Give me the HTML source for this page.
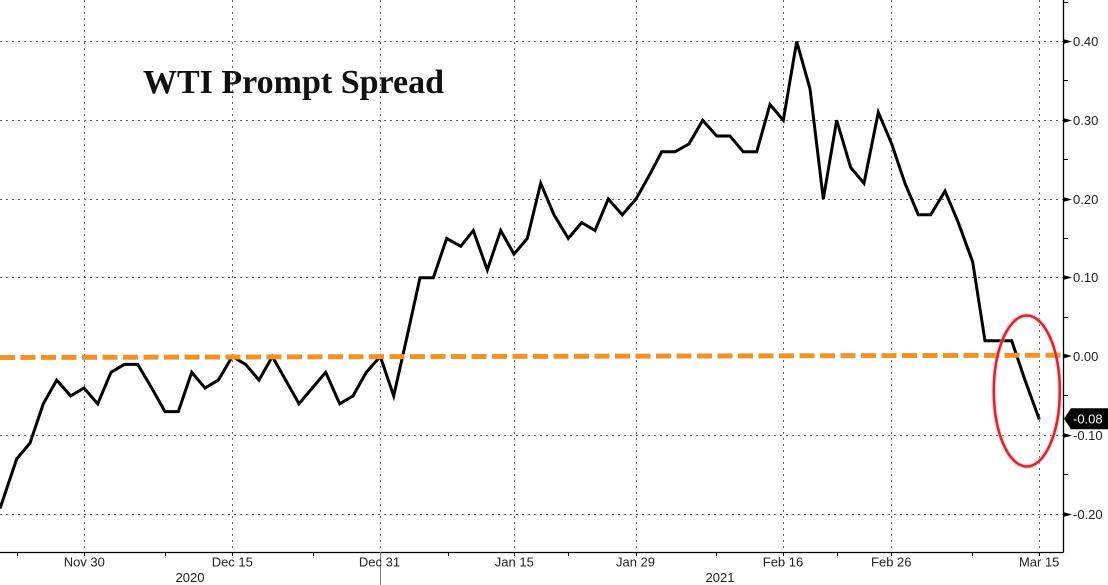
<!DOCTYPE html>
<html>
<head>
<meta charset="utf-8">
<style>
  html,body{margin:0;padding:0;background:#fff;}
  body{width:1108px;height:585px;overflow:hidden;}
  svg{display:block;}
  .ax{font-family:"Liberation Sans",sans-serif;font-size:13px;fill:#222;}
</style>
</head>
<body>
<svg width="1108" height="585" viewBox="0 0 1108 585" xmlns="http://www.w3.org/2000/svg">
  <rect x="0" y="0" width="1108" height="585" fill="#fff"/>

  <!-- horizontal gridlines -->
  <g stroke="#666" stroke-width="1" stroke-dasharray="2,4">
    <line x1="0" y1="41.5" x2="1063" y2="41.5"/>
    <line x1="0" y1="120.5" x2="1063" y2="120.5"/>
    <line x1="0" y1="199.5" x2="1063" y2="199.5"/>
    <line x1="0" y1="277.5" x2="1063" y2="277.5"/>
    <line x1="0" y1="435.5" x2="1063" y2="435.5"/>
    <line x1="0" y1="514.5" x2="1063" y2="514.5"/>
  </g>
  <!-- vertical gridlines -->
  <g stroke="#666" stroke-width="1" stroke-dasharray="2,4">
    <line x1="84.5" y1="0" x2="84.5" y2="552"/>
    <line x1="232.5" y1="0" x2="232.5" y2="552"/>
    <line x1="380.5" y1="0" x2="380.5" y2="552"/>
    <line x1="514.5" y1="0" x2="514.5" y2="552"/>
    <line x1="636.5" y1="0" x2="636.5" y2="552"/>
    <line x1="783.5" y1="0" x2="783.5" y2="552"/>
    <line x1="891.5" y1="0" x2="891.5" y2="552"/>
    <line x1="1039.5" y1="0" x2="1039.5" y2="552"/>
  </g>

  <!-- title -->
  <text x="143" y="93" font-family="'Liberation Serif',serif" font-weight="bold" font-size="34" fill="#111">WTI Prompt Spread</text>

  <!-- data line -->
  <polyline fill="none" stroke="#000" stroke-width="3" stroke-linejoin="miter" stroke-miterlimit="4"
    points="0,508.5 16.7,458.9 30,443.1 43.3,403.8 56.7,380.1 70.7,395.9 84,388 97.7,403.8 111,372.3 124.3,364.4 137.7,364.4 151.7,388 165,411.6 178.3,411.6 191.7,372.3 205,388 218.3,380.1 232.3,356.5 245.7,364.4 259,380.1 272.3,356.5 285.7,380.1 299,403.8 312.3,388 325.7,372.3 339.7,403.8 353,395.9 366.3,372.3 380.3,356.5 393.7,395.9 407,336.8 420,277.8 433.3,277.8 446.7,238.4 460.7,246.3 473.3,230.5 487.3,269.9 500.7,230.5 514,254.1 527.3,238.4 540.7,183.3 554,214.8 568.3,238.4 581.7,222.6 595,230.5 608.3,199 622.3,214.8 636,199 649.3,175.4 661.7,151.8 675,151.8 689,143.9 702.7,120.3 716.7,136 730,136 743.3,151.8 756.7,151.8 770,104.5 783.3,120.3 796.7,41.5 810,88.8 823.3,199 836.7,120.3 850.7,167.5 864,183.3 878.3,112.4 891.7,143.9 905,183.3 918.3,214.8 930.7,214.8 945,191.1 958.3,222.6 972.7,262 985,340.8 998.3,340.8 1011.7,340.8 1025,380.1 1039.3,419.5"/>

  <!-- orange dashed zero line -->
  <line x1="0" y1="357.5" x2="1063" y2="355.2" stroke="#f39224" stroke-width="5" stroke-dasharray="15,5.5"/>

  <!-- axes -->
  <line x1="0" y1="552.5" x2="1063.5" y2="552.5" stroke="#000" stroke-width="1.3"/>
  <line x1="1063.5" y1="0" x2="1063.5" y2="552.5" stroke="#000" stroke-width="1.3"/>

  <!-- right minor ticks -->
  <g stroke="#000" stroke-width="1">
    <line x1="1063" y1="2.5" x2="1068" y2="2.5"/>
    <line x1="1063" y1="80.5" x2="1068" y2="80.5"/>
    <line x1="1063" y1="159.5" x2="1068" y2="159.5"/>
    <line x1="1063" y1="238.5" x2="1068" y2="238.5"/>
    <line x1="1063" y1="317.5" x2="1068" y2="317.5"/>
    <line x1="1063" y1="395.5" x2="1068" y2="395.5"/>
    <line x1="1063" y1="474.5" x2="1068" y2="474.5"/>
  </g>
  <!-- right major tick arrows -->
  <g fill="#000">
    <polygon points="1063,39 1072,41.5 1063,44"/>
    <polygon points="1063,118 1072,120.5 1063,123"/>
    <polygon points="1063,197 1072,199.5 1063,202"/>
    <polygon points="1063,275 1072,277.5 1063,280"/>
    <polygon points="1063,353.5 1072,356 1063,358.5"/>
    <polygon points="1063,433 1072,435.5 1063,438"/>
    <polygon points="1063,512 1072,514.5 1063,517"/>
  </g>
  <!-- right labels -->
  <g class="ax">
    <text x="1073" y="46">0.40</text>
    <text x="1073" y="125">0.30</text>
    <text x="1073" y="204">0.20</text>
    <text x="1073" y="282">0.10</text>
    <text x="1073" y="361">0.00</text>
    <text x="1073" y="440">-0.10</text>
    <text x="1073" y="519">-0.20</text>
  </g>

  <!-- last value callout -->
  <polygon points="1064,418.8 1071,408.3 1108,408.3 1108,429.3 1071,429.3" fill="#000"/>
  <text x="1073" y="423.5" font-family="'Liberation Sans',sans-serif" font-size="13" fill="#fff">-0.08</text>

  <!-- bottom ticks -->
  <g stroke="#000" stroke-width="1">
    <line x1="17.5" y1="552" x2="17.5" y2="556"/>
    <line x1="165.5" y1="552" x2="165.5" y2="556"/>
    <line x1="313.5" y1="552" x2="313.5" y2="556"/>
    <line x1="448.5" y1="552" x2="448.5" y2="556"/>
    <line x1="568.5" y1="552" x2="568.5" y2="556"/>
    <line x1="716.5" y1="552" x2="716.5" y2="556"/>
    <line x1="837.5" y1="552" x2="837.5" y2="556"/>
    <line x1="972.5" y1="552" x2="972.5" y2="556"/>
    <line x1="84.5" y1="552" x2="84.5" y2="556"/>
    <line x1="232.5" y1="552" x2="232.5" y2="556"/>
    <line x1="514.5" y1="552" x2="514.5" y2="556"/>
    <line x1="636.5" y1="552" x2="636.5" y2="556"/>
    <line x1="783.5" y1="552" x2="783.5" y2="556"/>
    <line x1="891.5" y1="552" x2="891.5" y2="556"/>
    <line x1="1039.5" y1="552" x2="1039.5" y2="556"/>
  </g>
  <!-- year divider -->
  <line x1="380.5" y1="552" x2="380.5" y2="585" stroke="#777" stroke-width="1"/>

  <!-- bottom labels -->
  <g class="ax" text-anchor="middle">
    <text x="84.3" y="566.5">Nov 30</text>
    <text x="232.3" y="566.5">Dec 15</text>
    <text x="379.5" y="566.5">Dec 31</text>
    <text x="514.3" y="566.5">Jan 15</text>
    <text x="635.5" y="566.5">Jan 29</text>
    <text x="783" y="566.5">Feb 16</text>
    <text x="891.3" y="566.5">Feb 26</text>
    <text x="1039.2" y="566.5">Mar 15</text>
    <text x="190" y="581.8">2020</text>
    <text x="720" y="581.8">2021</text>
  </g>

  <!-- red ellipse -->
  <ellipse cx="1026.8" cy="391" rx="33" ry="75.5" fill="none" stroke="#e8b0b3" stroke-width="5" opacity="0.5"/>
  <ellipse cx="1026.8" cy="391" rx="33" ry="75.5" fill="none" stroke="#d7262f" stroke-width="2.5"/>
</svg>
</body>
</html>
